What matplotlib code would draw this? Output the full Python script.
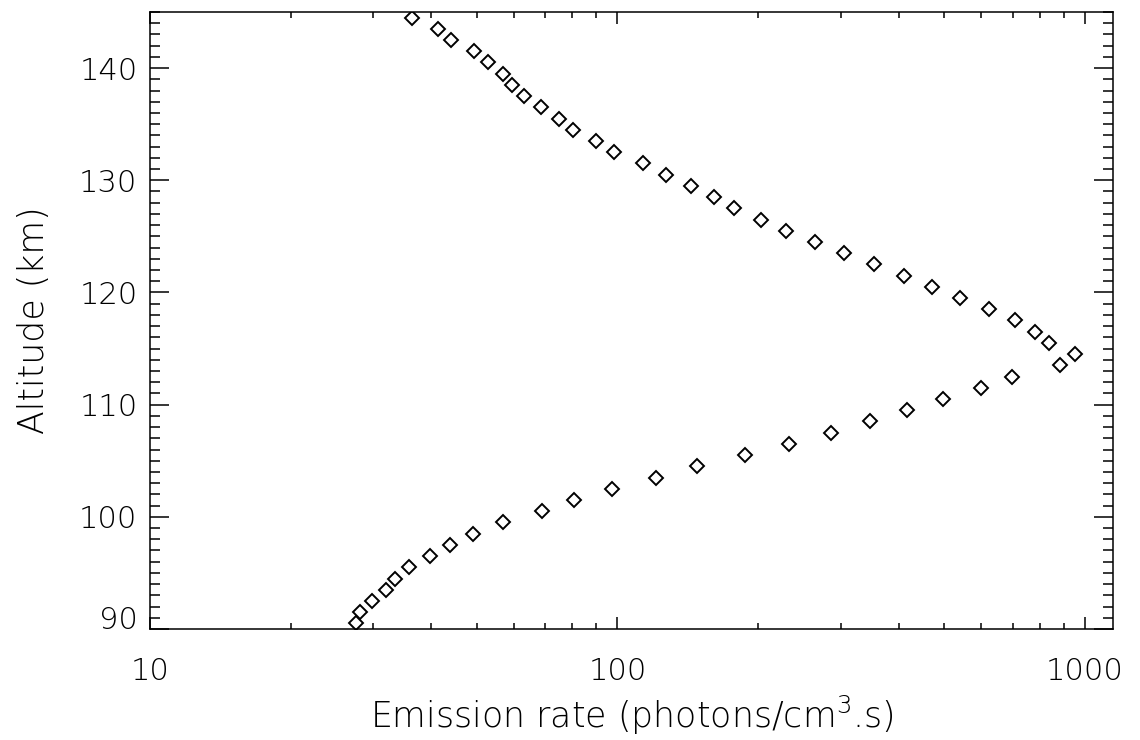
import numpy as np
import matplotlib
matplotlib.use("Agg")
import matplotlib.pyplot as plt
from matplotlib.ticker import LogLocator, FixedLocator, MultipleLocator, FixedFormatter

# profile, bottom to top (km, photons/cm3.s)
altitude = [90.5, 91.5, 92.5, 93.5, 94.5, 95.5, 96.5, 97.5, 98.5, 99.5,
            100.5, 101.5, 102.5, 103.5, 104.5, 105.5, 106.5, 107.5, 108.5, 109.5,
            110.5, 111.5, 112.5, 113.5, 114.5, 115.5, 116.5, 117.5, 118.5, 119.5,
            120.5, 121.5, 122.5, 123.5, 124.5, 125.5, 126.5, 127.5, 128.5, 129.5,
            130.5, 131.5, 132.5, 133.5, 134.5, 135.5, 136.5, 137.5, 138.5, 139.5,
            140.5, 141.5, 142.5, 143.5, 144.5]
emission = [27.6, 28.1, 29.8, 31.9, 33.4, 35.8, 39.7, 43.9, 49.2, 56.8,
            68.9, 80.6, 97.5, 120.7, 148.2, 187.7, 232.4, 286.7, 347.3, 415.6,
            497.0, 600.0, 699.0, 884.1, 952.0, 838.6, 782.8, 709.5, 623.2, 539.5,
            470.0, 410.1, 353.2, 305.2, 264.2, 229.3, 202.5, 177.5, 160.9, 143.4,
            127.0, 113.2, 98.3, 90.0, 80.2, 74.8, 68.6, 63.2, 59.5, 56.9,
            52.8, 49.3, 44.0, 41.4, 36.4]

x_ticks = [10, 100, 1000]
x_ticklabels = ["10", "100", "1000"]
y_ticks = [90, 100, 110, 120, 130, 140]

plt.rcParams['font.family'] = ['DejaVu Sans']
plt.rcParams['font.weight'] = 'light'
plt.rcParams['axes.labelweight'] = 'light'
plt.rcParams['mathtext.default'] = 'regular'

fig = plt.figure(figsize=(11.4, 7.4), dpi=100)
ax = fig.add_axes([0.1316, 0.15, 0.8447, 0.8338])

ax.plot(emission, altitude, linestyle='none', marker='D', ms=6.8,
        mfc='white', mec='black', mew=1.4)

ax.set_xscale('log')
ax.set_xlim(10, 1148)
ax.set_ylim(90, 145)

ax.xaxis.set_major_locator(FixedLocator(x_ticks))
ax.xaxis.set_major_formatter(FixedFormatter(x_ticklabels))
ax.xaxis.set_minor_locator(LogLocator(base=10, subs=np.arange(2, 10)))
ax.xaxis.set_minor_formatter(FixedFormatter([]))
ax.yaxis.set_major_locator(FixedLocator(y_ticks))
ax.yaxis.set_minor_locator(MultipleLocator(1))

for s in ax.spines.values():
    s.set_linewidth(1.1)

ax.tick_params(axis='both', which='both', direction='in', top=True, right=True,
               width=1.1, labelsize=22, colors='black')
ax.tick_params(axis='x', which='major', length=8.5, pad=20)
ax.tick_params(axis='x', which='minor', length=4.3)
ax.tick_params(axis='y', which='major', length=13.5, pad=9)
ax.tick_params(axis='y', which='minor', length=7.5)

# bottom altitude label sits on the axis line, as in the original
ax.get_yticklabels()[0].set_va('baseline')

ax.set_xlabel('Emission rate (photons/cm$^3$.s)', fontsize=25, labelpad=6)
ax.set_ylabel('Altitude (km)', fontsize=25, labelpad=20)

fig.savefig('out.png', dpi=100)
